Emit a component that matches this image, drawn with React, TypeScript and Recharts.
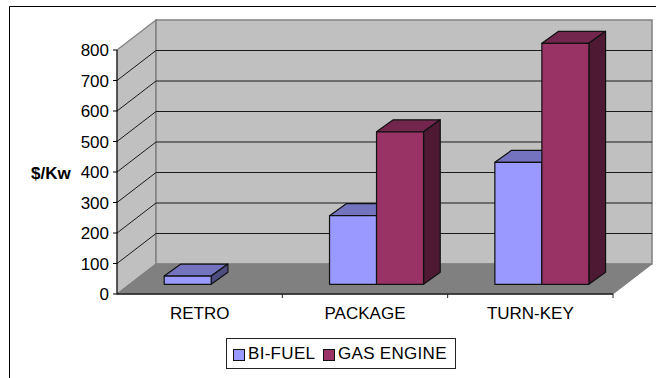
import { BarChart, Bar, XAxis, YAxis, Legend, Customized, usePlotArea } from 'recharts'

const categories = ['RETRO', 'PACKAGE', 'TURN-KEY']
const biFuel = [27, 225, 400]
const gasEngine = [null, 500, 790]
const yTicks = [0, 100, 200, 300, 400, 500, 600, 700, 800]
const yMax = 800

const rows = categories.map((name, i) => ({ name, biFuel: biFuel[i], gasEngine: gasEngine[i] }))

const FONT = '"Liberation Sans", Arial, sans-serif'
const FONT_SIZE = 17

// floor depth of the box, and where the bars stand within it
const BOX_DX = 39
const BOX_DY = -30
const BAR_OFFSET_X = 11.2
const BAR_OFFSET_Y = -9.7
const BAR_DX = 16.7
const BAR_DY = -12

const BI_COLOURS = { front: '#9999ff', top: '#7373bf', side: '#4d4d80' }
const GAS_COLOURS = { front: '#993366', top: '#73264d', side: '#4d1933' }

function Box3D() {
  const area = usePlotArea()
  if (!area) return null
  const { x, y, width, height } = area
  const right = x + width
  const bottom = y + height
  const yOf = (v: number) => y + height * (1 - v / yMax)
  const step = width / categories.length

  return (
    <g>
      <path d="M9.5 378V6.5H656" fill="none" stroke="#000" />
      {/* side wall, back wall, floor */}
      <polygon
        points={`${x},${y} ${x + BOX_DX},${y + BOX_DY} ${x + BOX_DX},${bottom + BOX_DY} ${x},${bottom}`}
        fill="#c0c0c0" stroke="#808080" strokeWidth={1.2}
      />
      <rect x={x + BOX_DX} y={y + BOX_DY} width={width} height={height} fill="#c0c0c0" stroke="#808080" strokeWidth={1.5} />
      <polygon
        points={`${x},${bottom} ${x + BOX_DX},${bottom + BOX_DY} ${right + BOX_DX},${bottom + BOX_DY} ${right},${bottom}`}
        fill="#808080" stroke="#808080"
      />
      {yTicks.slice(1, -1).map((v) => (
        <path
          key={v}
          d={`M${x} ${yOf(v)}L${x + BOX_DX} ${yOf(v) + BOX_DY}H${right + BOX_DX}`}
          fill="none" stroke="#1a1a1a"
        />
      ))}
      {/* ticks sit between the categories */}
      {categories.map((_, i) => (
        <line key={i} x1={x + step * (i + 1)} x2={x + step * (i + 1)} y1={bottom} y2={bottom + 4} stroke="#222" />
      ))}
    </g>
  )
}

function shape3D(colours: { front: string; top: string; side: string }) {
  return (props: any) => {
    const { x, y, width, height, value } = props
    if (value == null) return <g />
    const fx = x + BAR_OFFSET_X
    const fy = y + BAR_OFFSET_Y
    const fr = fx + width
    const fb = fy + height
    return (
      <g stroke="#111" strokeWidth={1.2} strokeLinejoin="round">
        <polygon points={`${fx},${fy} ${fx + BAR_DX},${fy + BAR_DY} ${fr + BAR_DX},${fy + BAR_DY} ${fr},${fy}`} fill={colours.top} />
        <polygon points={`${fr},${fy} ${fr + BAR_DX},${fy + BAR_DY} ${fr + BAR_DX},${fb + BAR_DY} ${fr},${fb}`} fill={colours.side} />
        <rect x={fx} y={fy} width={width} height={height} fill={colours.front} />
      </g>
    )
  }
}

function LegendBox({ payload }: any) {
  return (
    <div
      style={{
        position: 'relative', width: 230, height: 31, boxSizing: 'border-box', background: '#fff',
        border: '1px solid #222', fontFamily: FONT, fontSize: FONT_SIZE, letterSpacing: 0.3, color: '#000',
      }}
    >
      {(payload ?? []).map((entry: any, i: number) => (
        <div key={entry.value}>
          <span
            style={{
              position: 'absolute', left: i === 0 ? 6 : 96, top: 10, width: 10, height: 10,
              background: entry.color, border: '1px solid #111',
            }}
          />
          <span style={{ position: 'absolute', left: i === 0 ? 21 : 111, top: 5, lineHeight: '19px', whiteSpace: 'nowrap' }}>
            {entry.value}
          </span>
        </div>
      ))}
    </div>
  )
}

export default function App() {
  return (
    <div style={{ position: 'fixed', left: 0, top: 0, width: 656, height: 378, background: '#fff', overflow: 'hidden' }}>
      <BarChart
        width={656}
        height={378}
        data={rows}
        margin={{ top: 50, right: 43, bottom: 54, left: 0 }}
        barSize={47}
        barGap={0}
      >
        <Customized component={Box3D} />
        <XAxis
          dataKey="name"
          height={30}
          tickLine={false}
          axisLine={{ stroke: '#222', strokeWidth: 1.5 }}
          tickMargin={7}
          tick={{ fontFamily: FONT, fontSize: FONT_SIZE, fill: '#000' }}
        />
        <YAxis
          width={117}
          domain={[0, yMax]}
          ticks={yTicks}
          interval={0}
          tickSize={4}
          tickMargin={4}
          tickLine={{ stroke: '#000' }}
          axisLine={{ stroke: '#000' }}
          tick={{ fontFamily: FONT, fontSize: FONT_SIZE, fill: '#000' }}
        />
        <Bar dataKey="biFuel" name="BI-FUEL" fill={BI_COLOURS.front} isAnimationActive={false} shape={shape3D(BI_COLOURS)} />
        <Bar dataKey="gasEngine" name="GAS ENGINE" fill={GAS_COLOURS.front} isAnimationActive={false} shape={shape3D(GAS_COLOURS)} />
        <Legend
          layout="horizontal"
          verticalAlign="middle"
          align="center"
          content={LegendBox}
          wrapperStyle={{ position: 'absolute', left: 226, top: 338, width: 230, height: 31, margin: 0 }}
        />
        <text x={31} y={179} fontFamily={FONT} fontSize={FONT_SIZE} fontWeight="bold" fill="#000">$/Kw</text>
      </BarChart>
    </div>
  )
}
